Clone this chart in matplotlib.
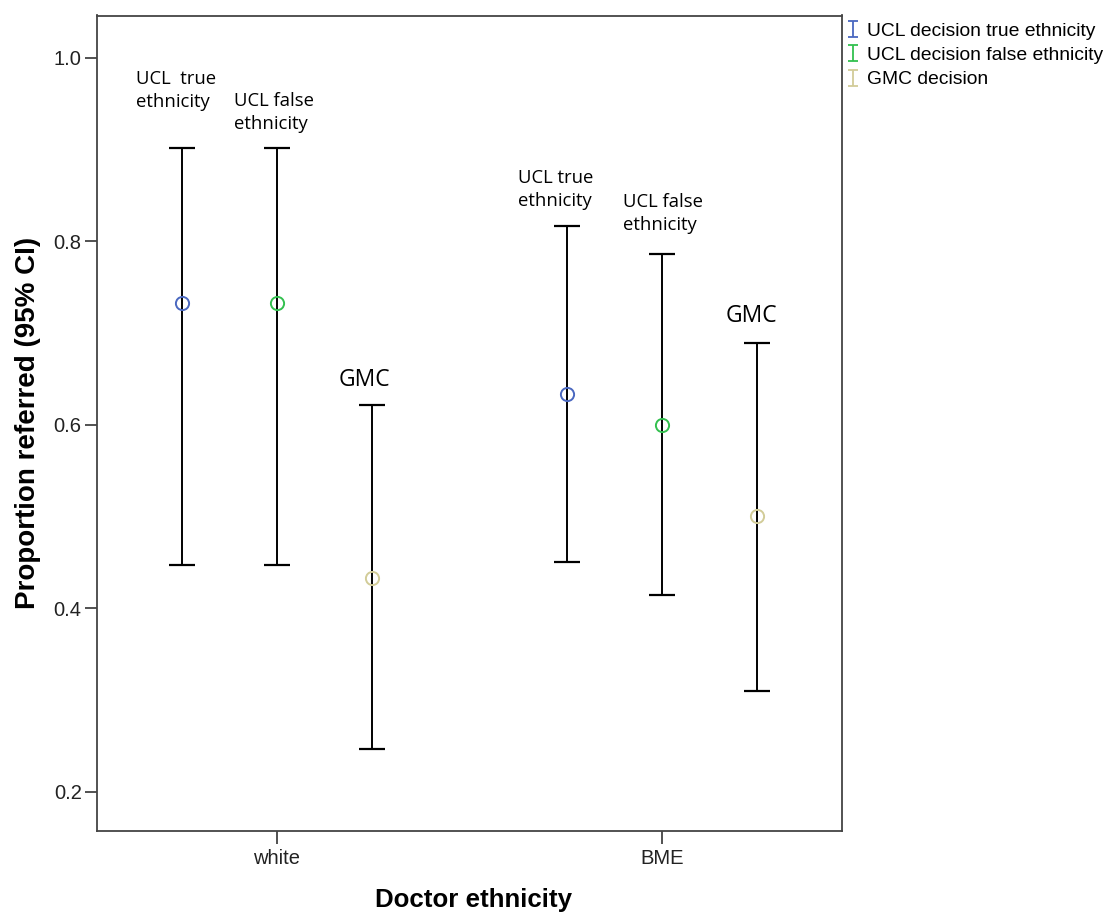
import matplotlib
matplotlib.use("Agg")
import matplotlib.pyplot as plt
from matplotlib.path import Path
from matplotlib.lines import Line2D

# data
groups = ["white", "BME"]
series = ["UCL decision true ethnicity", "UCL decision false ethnicity", "GMC decision"]
colors = ["#4a68c0", "#33c04f", "#d2cc98"]
means = [[0.733, 0.633], [0.733, 0.600], [0.433, 0.500]]
lower = [[0.447, 0.450], [0.447, 0.414], [0.246, 0.310]]
upper = [[0.901, 0.816], [0.901, 0.786], [0.621, 0.689]]
offsets = [-0.247, 0.0, 0.247]

# bar annotations: text, group, series, x shift, gap above the bar top
notes = [
    ("UCL  true\nethnicity", 0, 0, -0.119, 0.063),
    ("UCL false\nethnicity", 0, 1, -0.112, 0.039),
    ("GMC", 0, 2, -0.020, 0.027),
    ("UCL true\nethnicity", 1, 0, -0.127, 0.040),
    ("UCL false\nethnicity", 1, 1, -0.101, 0.044),
    ("GMC", 1, 2, -0.016, 0.029),
]

fig = plt.figure(figsize=(11.14, 9.16), dpi=100)
ax = fig.add_axes([97 / 1114, 1 - 831 / 916, 745 / 1114, 815.5 / 916])

for s in range(len(series)):
    xs = [g + offsets[s] for g in range(len(groups))]
    m = means[s]
    err = [[m[i] - lower[s][i] for i in range(len(m))],
           [upper[s][i] - m[i] for i in range(len(m))]]
    ax.errorbar(xs, m, yerr=err, fmt="none", ecolor="black",
                elinewidth=1.4, capsize=9.5, capthick=1.6, zorder=2)
    ax.plot(xs, m, "o", mfc="none", mec=colors[s], ms=9.5, mew=1.4, zorder=3)

note_font = {"family": ["Open Sans", "DejaVu Sans"], "color": "black"}
for text, g, s, dx, dy in notes:
    x = g + offsets[s] + dx
    y = upper[s][g] + dy
    if text == "GMC":
        ax.text(x, y, text, ha="center", va="center",
                fontsize=16.5, fontdict=note_font)
    else:
        ax.text(x, y, text, ha="left", va="center",
                fontsize=13.3, linespacing=1.4, fontdict=note_font)

ax.set_xlim(-0.4675, 1.4675)
ax.set_ylim(0.157, 1.0458)
ax.set_xticks(range(len(groups)))
ax.set_xticklabels(groups)
ax.set_yticks([0.2, 0.4, 0.6, 0.8, 1.0])
ax.set_yticklabels(["0.2", "0.4", "0.6", "0.8", "1.0"])
ax.tick_params(length=9, width=1.2, color="#333333", labelsize=14.5,
               labelcolor="#222222")
ax.tick_params(axis="x", pad=4)
ax.tick_params(axis="y", pad=2)
for lab in ax.get_xticklabels() + ax.get_yticklabels():
    lab.set_family("Liberation Sans")
for sp in ax.spines.values():
    sp.set_color("#444444")
    sp.set_linewidth(1.3)

ax.set_ylabel("Proportion referred (95% CI)", fontsize=20, fontweight="bold",
              family="Liberation Sans")
ax.yaxis.set_label_coords(-0.075, 0.5)
ax.set_xlabel("Doctor ethnicity", fontsize=18.6, fontweight="bold",
              family="Liberation Sans")
ax.xaxis.set_label_coords(0.506, -0.070)

# legend with small coloured I-beam icons
ibeam = Path([(-0.6, -1), (0.6, -1), (0, -1), (0, 1), (-0.6, 1), (0.6, 1)],
             [Path.MOVETO, Path.LINETO, Path.MOVETO, Path.LINETO,
              Path.MOVETO, Path.LINETO])
handles = [Line2D([], [], ls="none", marker=ibeam, ms=11, mec=c, mew=1.3)
           for c in colors]
fig.legend(handles, series, loc="upper left",
           bbox_to_anchor=(847 / 1114, 1 - 22 / 916), frameon=False,
           prop={"family": "Liberation Sans", "size": 13.9},
           handlelength=0.6, handletextpad=0.45, labelspacing=0.36,
           borderaxespad=0, borderpad=0)

fig.savefig("out.png", dpi=100)
